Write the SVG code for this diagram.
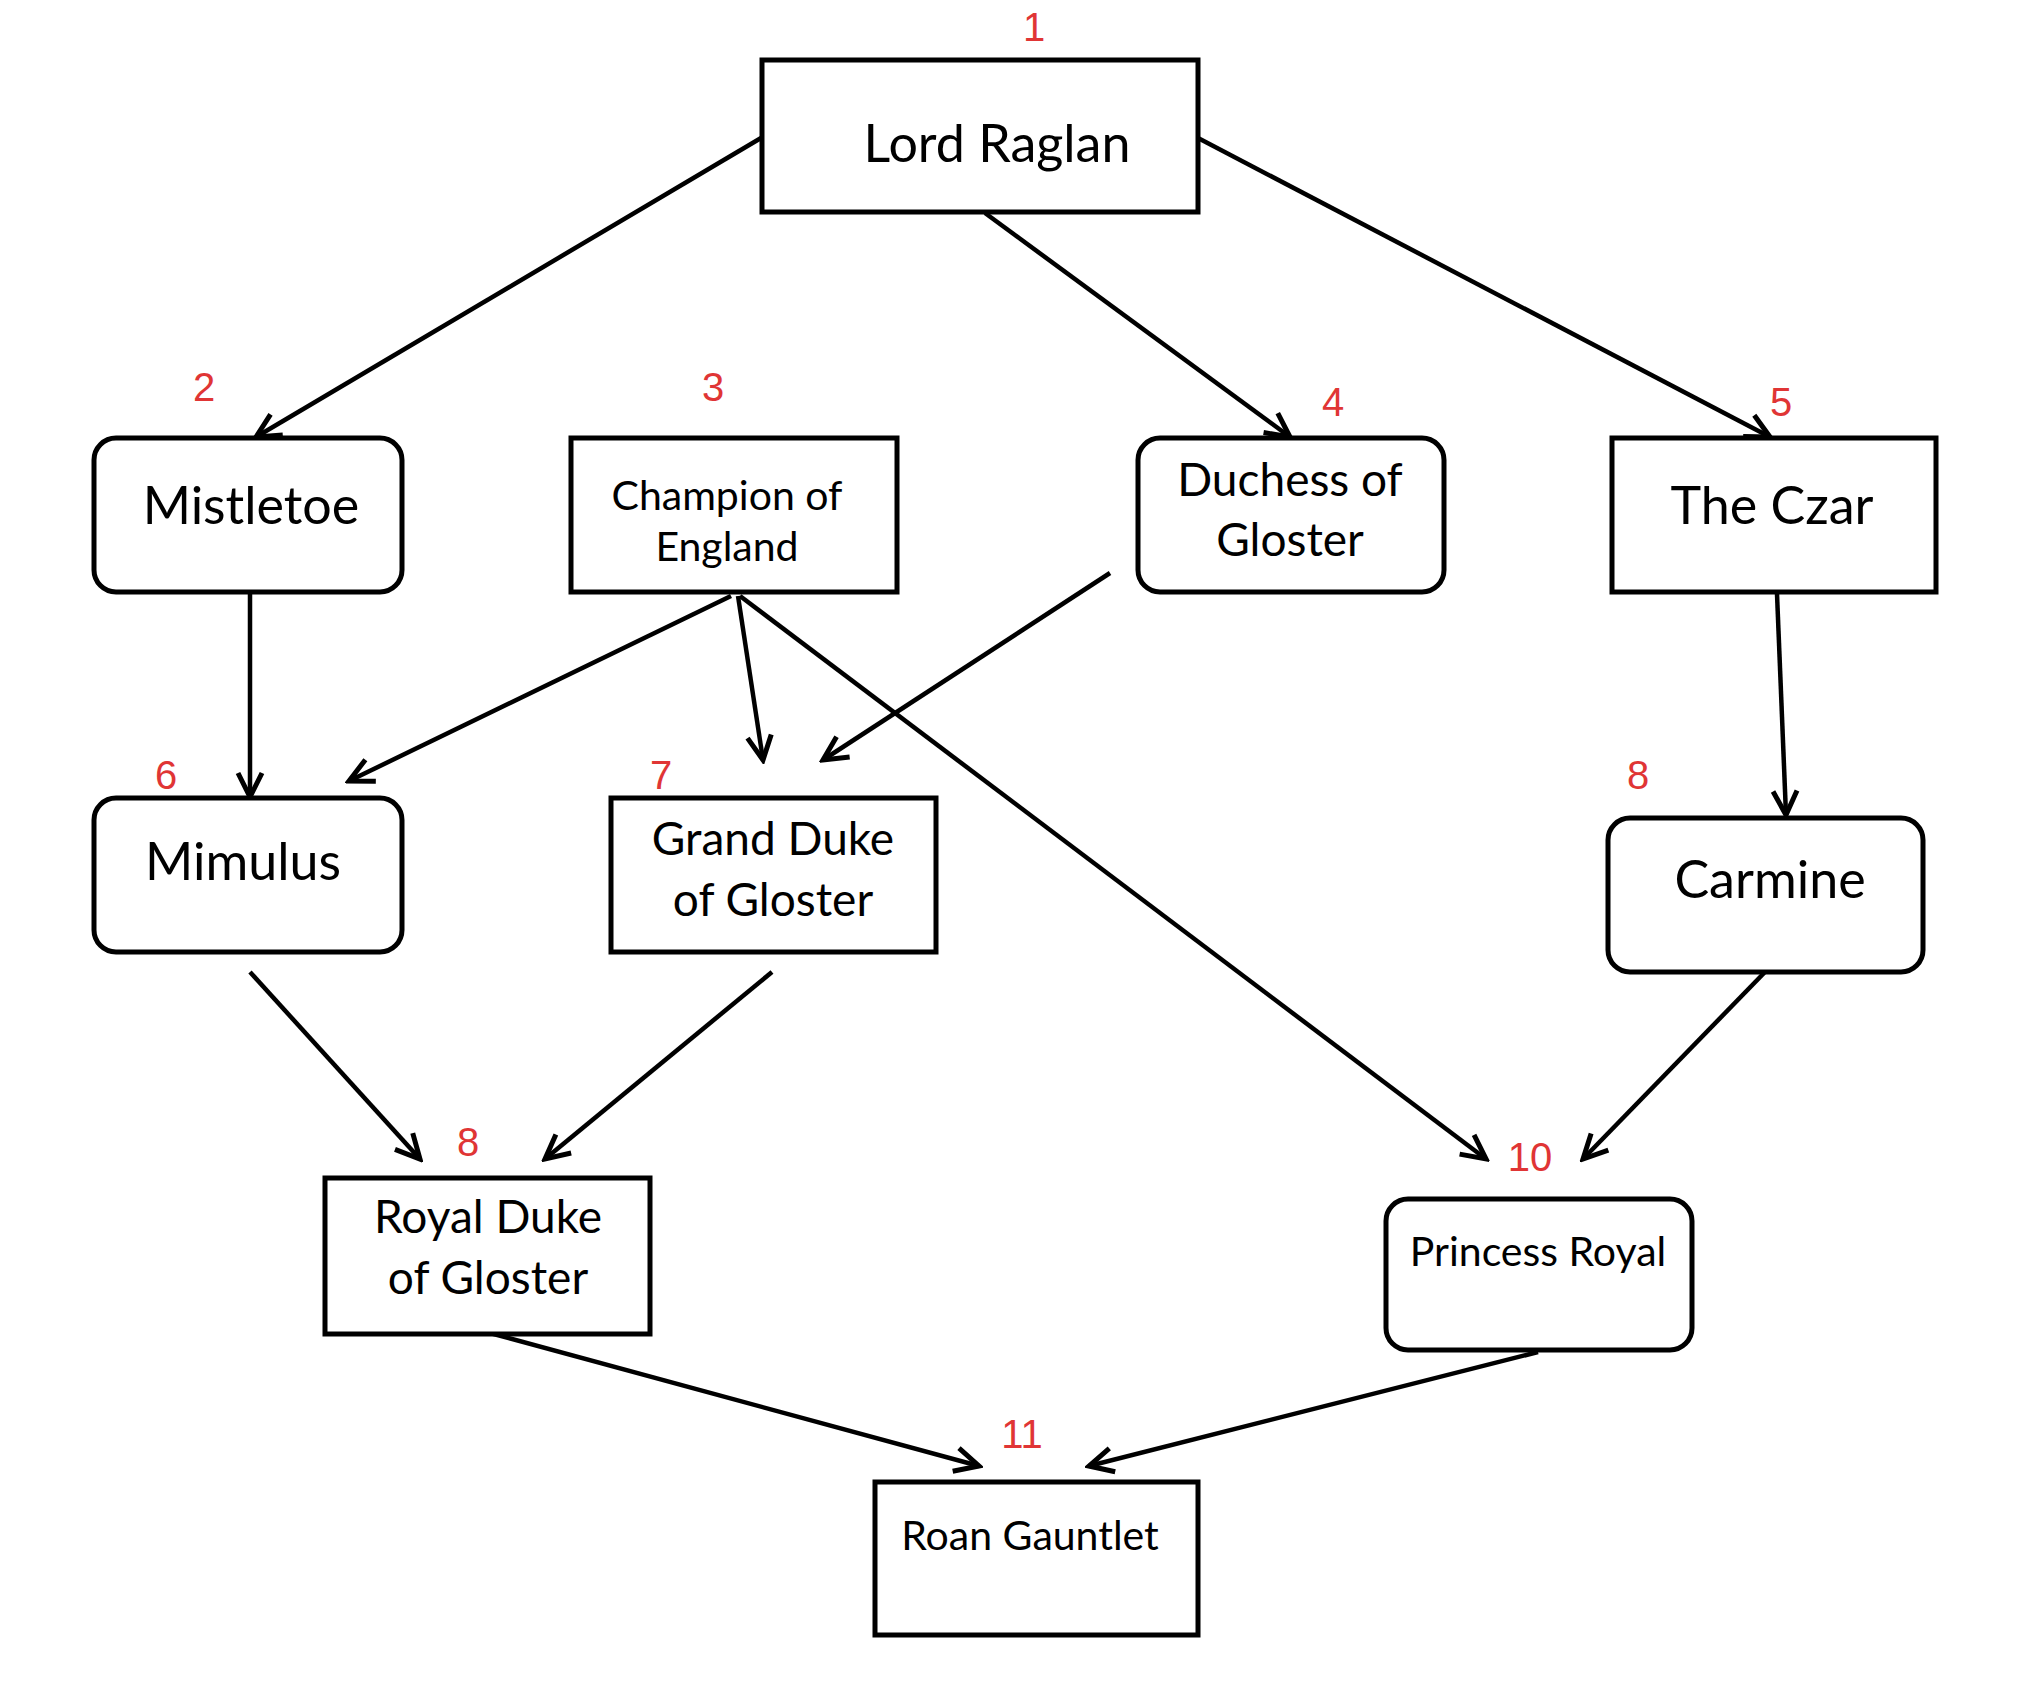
<svg xmlns="http://www.w3.org/2000/svg" width="2040" height="1686" viewBox="0 0 2040 1686">
<style>
  .box{fill:#fff;stroke:#000;stroke-width:5}
  .lbl{font-family:Lato,"Liberation Sans",sans-serif;fill:#000;text-anchor:middle}
  .big{font-size:52px}
  .mid{font-size:46px}
  .xs{font-size:41px}
  .num{font-family:"Liberation Sans",Arial,sans-serif;font-size:40px;fill:#e03535;text-anchor:middle}
  .edge{stroke:#000;stroke-width:4.5;fill:none;marker-end:url(#arr)}
</style>
<defs>
  <marker id="arr" markerUnits="userSpaceOnUse" markerWidth="34" markerHeight="34" viewBox="0 0 34 34" refX="30" refY="17" orient="auto">
    <path d="M6,5 L30,17 L6,29" fill="none" stroke="#000" stroke-width="5" stroke-linejoin="miter"/>
  </marker>
</defs>
<rect width="2040" height="1686" fill="#fff"/>
<g id="connectors">
  <line class="edge" x1="761" y1="138" x2="256" y2="437"/>
  <line class="edge" x1="985" y1="213" x2="1290" y2="437"/>
  <line class="edge" x1="1198" y1="138" x2="1770" y2="437"/>
  <line class="edge" x1="250" y1="592" x2="250" y2="797"/>
  <line class="edge" x1="731" y1="596" x2="349" y2="781"/>
  <line class="edge" x1="738" y1="596" x2="763" y2="760"/>
  <line class="edge" x1="1110" y1="573" x2="823" y2="760"/>
  <line class="edge" x1="740" y1="596" x2="1486" y2="1159"/>
  <line class="edge" x1="1777" y1="594" x2="1786" y2="815"/>
  <line class="edge" x1="250" y1="972" x2="420" y2="1159"/>
  <line class="edge" x1="772" y1="972" x2="545" y2="1159"/>
  <line class="edge" x1="1765" y1="972" x2="1583" y2="1159"/>
  <line class="edge" x1="490" y1="1333" x2="979" y2="1466"/>
  <line class="edge" x1="1538" y1="1352" x2="1089" y2="1466"/>
</g>
<g id="n1">
  <rect class="box" x="762" y="60" width="436" height="152"/>
  <text class="lbl big" x="997" y="162">Lord Raglan</text>
  <text class="num" x="1034" y="41">1</text>
</g>
<g id="n2">
  <rect class="box" x="94" y="438" width="308" height="154" rx="22"/>
  <text class="lbl big" x="251" y="524">Mistletoe</text>
  <text class="num" x="204" y="401">2</text>
</g>
<g id="n3">
  <rect class="box" x="571" y="438" width="326" height="154"/>
  <text class="lbl xs" x="727" y="510">Champion of</text>
  <text class="lbl xs" x="727" y="561">England</text>
  <text class="num" x="713" y="401">3</text>
</g>
<g id="n4">
  <rect class="box" x="1138" y="438" width="306" height="154" rx="22"/>
  <text class="lbl mid" x="1290" y="496">Duchess of</text>
  <text class="lbl mid" x="1290" y="556">Gloster</text>
  <text class="num" x="1333" y="416">4</text>
</g>
<g id="n5">
  <rect class="box" x="1612" y="438" width="324" height="154"/>
  <text class="lbl big" x="1772" y="524">The Czar</text>
  <text class="num" x="1781" y="416">5</text>
</g>
<g id="n6">
  <rect class="box" x="94" y="798" width="308" height="154" rx="22"/>
  <text class="lbl big" x="243" y="880">Mimulus</text>
  <text class="num" x="166" y="789">6</text>
</g>
<g id="n7">
  <rect class="box" x="611" y="798" width="325" height="154"/>
  <text class="lbl mid" x="773" y="855">Grand Duke</text>
  <text class="lbl mid" x="773" y="916">of Gloster</text>
  <text class="num" x="661" y="789">7</text>
</g>
<g id="n8">
  <rect class="box" x="1610" y="818" width="315" height="154" rx="22" transform="translate(-2 0)"/>
  <text class="lbl big" x="1770" y="898">Carmine</text>
  <text class="num" x="1638" y="789">8</text>
</g>
<g id="n9">
  <rect class="box" x="325" y="1178" width="325" height="156"/>
  <text class="lbl mid" x="488" y="1233">Royal Duke</text>
  <text class="lbl mid" x="488" y="1294">of Gloster</text>
  <text class="num" x="468" y="1156">8</text>
</g>
<g id="n10">
  <rect class="box" x="1386" y="1199" width="306" height="151" rx="22"/>
  <text class="lbl xs" x="1538" y="1266">Princess Royal</text>
  <text class="num" x="1530" y="1171">10</text>
</g>
<g id="n11">
  <rect class="box" x="875" y="1482" width="323" height="153"/>
  <text class="lbl xs" x="1030" y="1550">Roan Gauntlet</text>
  <text class="num" x="1022" y="1448">11</text>
</g>
</svg>
